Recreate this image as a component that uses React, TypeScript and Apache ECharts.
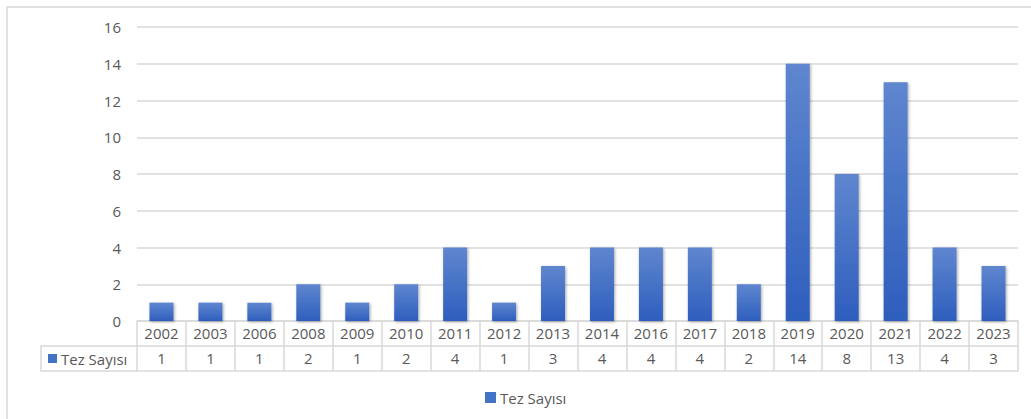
import React, { useEffect, useRef } from "react";
import * as echarts from "echarts";

const categories = ["2002", "2003", "2006", "2008", "2009", "2010", "2011", "2012", "2013", "2014", "2016", "2017", "2018", "2019", "2020", "2021", "2022", "2023"];
const tezSayisi = [1, 1, 1, 2, 1, 2, 4, 1, 3, 4, 4, 4, 2, 14, 8, 13, 4, 3];
const seriesName = "Tez Sayısı";
const yMin = 0;
const yMax = 16;
const yInterval = 2;

const W = 1031;
const H = 419;
const GRID_LEFT = 137;
const GRID_RIGHT = 13;
const GRID_TOP = 27;
const GRID_BOTTOM = 98;
const ROW_H = 25;
const FONT = "'Open Sans', sans-serif";
const TXT = "#595959";
const LINE = "#d9d9d9";

export default function App() {
  const ref = useRef<HTMLDivElement>(null);
  useEffect(() => {
    document.body.style.margin = "0";
    if (!ref.current) return;
    const chart = echarts.init(ref.current, undefined, { renderer: "svg" });
    const axisY = H - GRID_BOTTOM;
    const barColor = new echarts.graphic.LinearGradient(0, 0, 0, 1, [
      { offset: 0, color: "#5f86cf" },
      { offset: 1, color: "#2e5ebd" },
    ]);
    chart.setOption({
      animation: false,
      backgroundColor: "#ffffff",
      textStyle: { fontFamily: FONT },
      grid: { left: GRID_LEFT, right: GRID_RIGHT, top: GRID_TOP, bottom: GRID_BOTTOM, containLabel: false },
      legend: {
        data: [seriesName],
        left: 480,
        top: 385,
        icon: "rect",
        itemWidth: 11,
        itemHeight: 11,
        itemGap: 4,
        itemStyle: { color: "#4472c4" },
        textStyle: { color: TXT, fontSize: 15, fontFamily: FONT, padding: [0, 0, 0, -1] },
      },
      xAxis: [
        {
          type: "category",
          data: categories,
          position: "bottom",
          axisLine: { show: true, lineStyle: { color: LINE, width: 1.5 } },
          axisTick: { show: true, length: ROW_H * 2, lineStyle: { color: LINE, width: 1.5 } },
          axisLabel: { interval: 0, color: TXT, fontSize: 15, fontFamily: FONT, margin: 4 },
        },
        {
          type: "category",
          data: categories,
          position: "bottom",
          offset: ROW_H,
          axisLine: { show: true, lineStyle: { color: LINE, width: 1.5 } },
          axisTick: { show: false },
          axisLabel: {
            interval: 0,
            color: TXT,
            fontSize: 15,
            fontFamily: FONT,
            margin: 4,
            formatter: (_v: string, i: number) => String(tezSayisi[i]),
          },
        },
        {
          type: "category",
          data: categories,
          position: "bottom",
          offset: ROW_H * 2,
          axisLine: { show: true, lineStyle: { color: LINE, width: 1.5 } },
          axisTick: { show: false },
          axisLabel: { show: false },
        },
      ],
      yAxis: {
        type: "value",
        min: yMin,
        max: yMax,
        interval: yInterval,
        axisLine: { show: false },
        axisTick: { show: false },
        axisLabel: { color: TXT, fontSize: 15, fontFamily: FONT, margin: 16 },
        splitLine: { lineStyle: { color: LINE, width: 1.5 } },
      },
      series: [
        {
          name: seriesName,
          type: "bar",
          xAxisIndex: 0,
          data: tezSayisi,
          barWidth: 24,
          itemStyle: {
            color: barColor,
            shadowBlur: 3,
            shadowColor: "rgba(0,0,0,0.35)",
            shadowOffsetX: 1,
            shadowOffsetY: 1,
          },
        },
      ],
      graphic: [
        {
          type: "rect",
          shape: { x: 7, y: 7, width: W + 20, height: H + 20 },
          style: { fill: "none", stroke: LINE, lineWidth: 1.5 },
          silent: true,
        },
        {
          type: "polyline",
          shape: {
            points: [
              [GRID_LEFT, axisY + ROW_H],
              [41, axisY + ROW_H],
              [41, axisY + ROW_H * 2],
              [GRID_LEFT, axisY + ROW_H * 2],
            ],
          },
          style: { fill: "none", stroke: LINE, lineWidth: 1.5 },
          silent: true,
        },
        {
          type: "rect",
          shape: { x: 48, y: axisY + ROW_H + 8, width: 9, height: 9 },
          style: { fill: "#4472c4" },
          silent: true,
        },
        {
          type: "text",
          x: 61,
          y: axisY + ROW_H * 1.5,
          style: { text: seriesName, fill: TXT, font: `15px ${FONT}`, textVerticalAlign: "middle", verticalAlign: "middle" },
          silent: true,
        },
      ],
    });
    return () => chart.dispose();
  }, []);
  return <div ref={ref} style={{ width: W, height: H }} />;
}
